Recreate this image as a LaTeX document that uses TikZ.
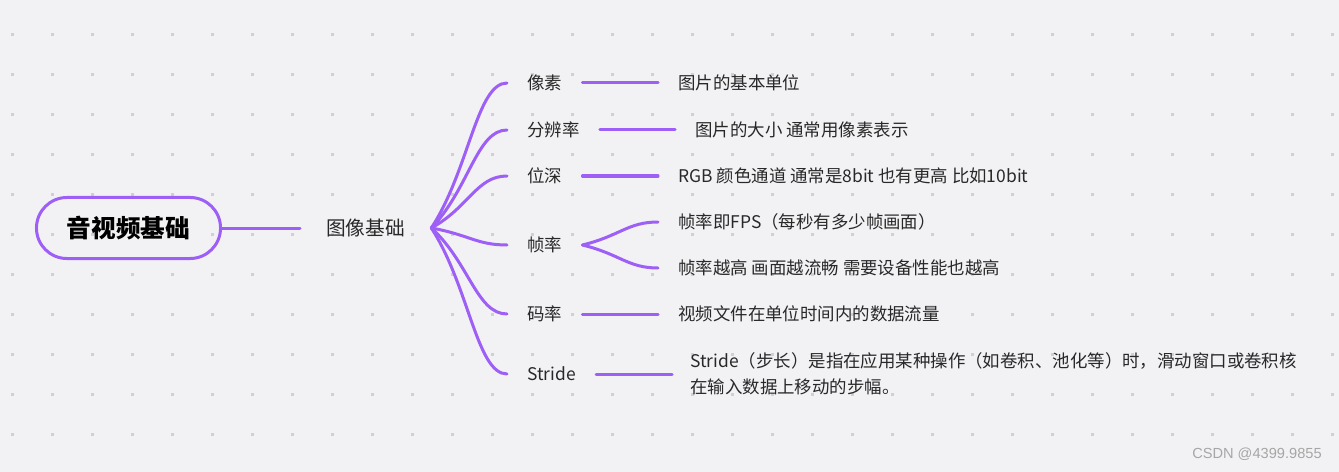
\documentclass[tikz,border=0pt]{standalone}
\usepackage{fontspec}
\setmainfont{Noto Sans CJK SC}
\newfontfamily\wmfont{Liberation Sans}
\usetikzlibrary{calc}

\definecolor{mmpurple}{RGB}{157,95,245}
\definecolor{mmbg}{RGB}{242,242,245}
\definecolor{mmdot}{RGB}{208,208,212}
\definecolor{mmtext}{RGB}{40,40,40}

\tikzset{
  branch/.style={draw=mmpurple, line width=0.075cm, line cap=round},
  rootbox/.style={draw=mmpurple, line width=0.075cm, rounded corners=0.76cm,
    minimum width=4.6cm, minimum height=1.525cm, text=black,
    font=\bfseries\fontsize{17.5}{20}\selectfont},
  topic/.style={anchor=west, inner xsep=0.65cm, text=mmtext, font=\fontsize{14}{17}\selectfont},
  item/.style={anchor=west, inner xsep=0.5cm, text=mmtext, font=\fontsize{12.4}{15}\selectfont},
  leaf/.style={item, align=left},
}

% curved branch from a fan point to a child
\newcommand{\fanto}[2]{%
  \draw[branch] let \p1=(#1), \p2=(#2) in
    (\p1) .. controls ({\x1+0.5*(\x2-\x1)},{\y1+0.4*(\y2-\y1)})
             and ({\x2-0.4*(\x2-\x1)},\y2) .. (\p2);}

\begin{document}
\begin{tikzpicture}[x=0.025cm, y=-0.025cm]
  \useasboundingbox (0,0) rectangle (1339,472);
  \fill[mmbg] (0,0) rectangle (1339,472);
  % dot grid
  \foreach \i in {0,...,33}
    \foreach \j in {0,...,10}
      \fill[mmdot] ({11+40*\i},{33+40*\j}) rectangle ++(3,3);

  \node[rootbox] (root) at (128.5,228) {音视频基础};
  \node[topic] (img) at (300,228) {图像基础};

  \node[item] (px)  at (507,83)  {像素};
  \node[item] (res) at (507,130) {分辨率};
  \node[item] (dep) at (507,176) {位深};
  \node[item] (fps) at (507,245) {帧率};
  \node[item] (br)  at (507,314) {码率};
  \node[item] (std) at (507,374) {Stride};

  \node[leaf] (pxl)  at (658,83)  {图片的基本单位};
  \node[leaf] (resl) at (675,130) {图片的大小 通常用像素表示};
  \node[leaf] (depl) at (658,176) {RGB 颜色通道 通常是8bit 也有更高 比如10bit};
  \node[leaf] (fpsa) at (658,222) {帧率即FPS（每秒有多少帧画面）};
  \node[leaf] (fpsb) at (658,268) {帧率越高 画面越流畅 需要设备性能也越高};
  \node[leaf] (brl)  at (658,314) {视频文件在单位时间内的数据流量};
  \node[leaf, inner xsep=0.45cm, font=\fontsize{12.4}{18.5}\selectfont] (stdl) at (672,374)
    {Stride（步长）是指在应用某种操作（如卷积、池化等）时，滑动窗口或卷积核\\在输入数据上移动的步幅。};

  \draw[branch] (root.east) -- (img.west);
  \foreach \c in {px,res,dep,fps,br,std}
    \fanto{img.east}{\c.west};
  \fanto{fps.east}{fpsa.west};
  \fanto{fps.east}{fpsb.west};
  \foreach \a/\b in {px/pxl,res/resl,dep/depl,br/brl,std/stdl}
    \draw[branch] (\a.east) -- (\b.west);

  \node[anchor=east, inner sep=0, text=black!35, font=\wmfont\fontsize{10.4}{12}\selectfont]
    (wm) at (1322,454) {CSDN @4399.9855};
\end{tikzpicture}
\end{document}
